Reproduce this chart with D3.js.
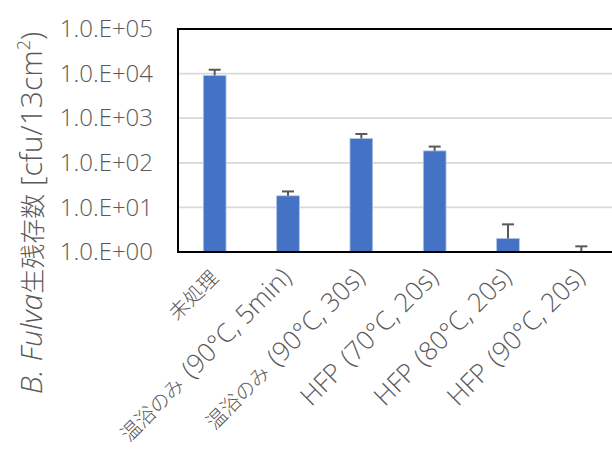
<html>
<head>
<meta charset="utf-8">
<title>B. Fulva</title>
<script src="https://cdn.jsdelivr.net/npm/d3@7"></script>
<style>
  body { margin: 0; background: #fff; }
  text { font-family: "Open Sans", "Noto Sans CJK JP", sans-serif; fill: #595959; font-weight: 300; }
</style>
</head>
<body>
<script>
// data
var categories = ["未処理", "温浴のみ (90°C, 5min)", "温浴のみ (90°C, 30s)", "HFP (70°C, 20s)", "HFP (80°C, 20s)", "HFP (90°C, 20s)"];
var values = [9100, 18.2, 350, 185, 2.02, 1.0];
var errTop = [12200, 22.8, 443, 231, 4.17, 1.34];
var tickValues = [1, 10, 100, 1000, 10000, 100000];

var width = 612, height = 458;
var plot = {left: 178, top: 29, right: 618, bottom: 252};
var fontStack = "'Open Sans', 'Noto Sans CJK JP', sans-serif";

// split a label into CJK / latin runs so each gets its own size,
// and open up the gap before "(" a little like the original font does
function mixedRuns(sel, cjkSize, latinSize) {
  sel.each(function() {
    var t = d3.select(this), s = t.text();
    t.text(null);
    s.split(/(?= \()/).forEach(function(part) {
      (part.match(/[\u3000-\u9fff]+|[^\u3000-\u9fff]+/g) || []).forEach(function(run) {
        var cjk = /[\u3000-\u9fff]/.test(run);
        var ts = t.append("tspan").attr("font-size", cjk ? cjkSize : latinSize).text(run);
        if (run.indexOf(" (") === 0) ts.attr("dx", 2.5);
      });
    });
  });
}

var svg = d3.select("body").append("svg")
  .attr("width", width).attr("height", height);

var x = d3.scaleBand().domain(categories).range([plot.left, plot.right]).paddingInner(0.69).paddingOuter(0.345);
var y = d3.scaleLog().domain([1, 100000]).range([plot.bottom, plot.top]);

// gridlines
svg.selectAll(".grid").data(tickValues.slice(1, 5)).enter().append("line")
  .attr("x1", plot.left).attr("x2", plot.right)
  .attr("y1", function(d){ return y(d); }).attr("y2", function(d){ return y(d); })
  .attr("stroke", "#d9d9d9").attr("stroke-width", 1.75);

// bars
svg.selectAll(".bar").data(values).enter().append("rect")
  .attr("x", function(d, i){ return x(categories[i]); })
  .attr("width", x.bandwidth())
  .attr("y", function(d){ return y(d); })
  .attr("height", function(d){ return plot.bottom - y(d); })
  .attr("fill", "#4472c4")
  .attr("stroke", "#b4c7e7").attr("stroke-width", 0.8);

// error bars
var eb = svg.selectAll(".err").data(errTop).enter().append("g");
eb.append("line")
  .attr("x1", function(d, i){ return x(categories[i]) + x.bandwidth() / 2; })
  .attr("x2", function(d, i){ return x(categories[i]) + x.bandwidth() / 2; })
  .attr("y1", function(d, i){ return y(values[i]); })
  .attr("y2", function(d){ return y(d); })
  .attr("stroke", "#595959").attr("stroke-width", 2);
eb.append("line")
  .attr("x1", function(d, i){ return x(categories[i]) + x.bandwidth() / 2 - 6; })
  .attr("x2", function(d, i){ return x(categories[i]) + x.bandwidth() / 2 + 6; })
  .attr("y1", function(d){ return y(d); })
  .attr("y2", function(d){ return y(d); })
  .attr("stroke", "#595959").attr("stroke-width", 2);

// plot border
svg.append("rect")
  .attr("x", plot.left).attr("y", plot.top)
  .attr("width", plot.right - plot.left).attr("height", plot.bottom - plot.top)
  .attr("fill", "none").attr("stroke", "#000").attr("stroke-width", 2);

// y axis labels
var yAxis = d3.axisLeft(y).tickValues(tickValues).tickSize(0).tickPadding(25)
  .tickFormat(function(d){ return "1.0.E+" + d3.format("02d")(Math.round(Math.log10(d))); });
var gy = svg.append("g").attr("transform", "translate(" + plot.left + ",0)").call(yAxis);
gy.select(".domain").remove();
gy.selectAll("text").attr("font-size", 24).attr("fill", "#595959")
  .style("font-family", fontStack);

// x axis labels
var xAxis = d3.axisBottom(x).tickSize(0).tickPadding(0);
var gx = svg.append("g").attr("transform", "translate(0," + plot.bottom + ")").call(xAxis);
gx.select(".domain").remove();
gx.selectAll("text")
  .attr("fill", "#595959")
  .style("font-family", fontStack)
  .attr("text-anchor", "end")
  .attr("dy", "0")
  .attr("transform", "translate(5,27) rotate(-45)")
  .call(mixedRuns, 20, 26);

// y title
var title = svg.append("text")
  .attr("transform", "translate(42,213) rotate(-90)")
  .attr("text-anchor", "middle")
  .attr("font-size", 30)
  .style("font-family", fontStack);
title.append("tspan").attr("font-style", "italic").text("B. Fulva");
title.append("tspan").attr("font-size", 25).text("生残存数");
title.append("tspan").text(" [cfu/13cm");
title.append("tspan").attr("font-size", 18).attr("dy", -12).text("2");
title.append("tspan").attr("dy", 12).text(")");
</script>
</body>
</html>
